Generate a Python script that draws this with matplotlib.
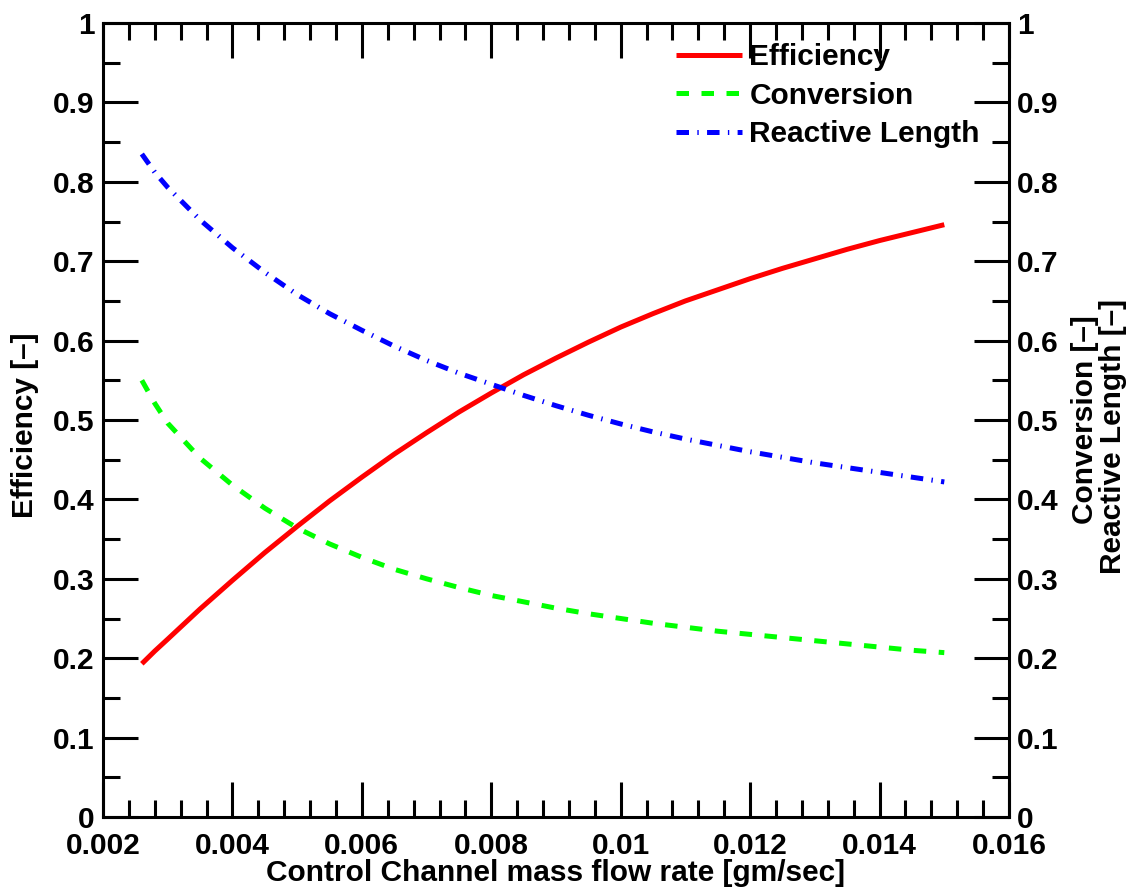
import matplotlib
matplotlib.use("Agg")
import matplotlib.pyplot as plt
from matplotlib.ticker import MultipleLocator, FuncFormatter

# ---- data ----
mass_flow = [0.0026, 0.0028, 0.003, 0.0035, 0.004, 0.0045, 0.005, 0.0055, 0.006,
             0.0065, 0.007, 0.0075, 0.008, 0.0085, 0.009, 0.0095, 0.010, 0.0105,
             0.011, 0.0115, 0.012, 0.0125, 0.013, 0.0135, 0.014, 0.0145, 0.015]
efficiency = [0.193, 0.209, 0.224, 0.262, 0.298, 0.333, 0.366, 0.398, 0.428,
              0.457, 0.484, 0.510, 0.534, 0.557, 0.578, 0.598, 0.617, 0.634,
              0.650, 0.664, 0.678, 0.691, 0.703, 0.715, 0.726, 0.736, 0.746]
conversion = [0.550, 0.521, 0.496, 0.452, 0.418, 0.389, 0.364, 0.344, 0.327,
              0.312, 0.300, 0.289, 0.279, 0.271, 0.263, 0.256, 0.250, 0.244,
              0.239, 0.234, 0.230, 0.226, 0.222, 0.218, 0.214, 0.210, 0.207]
reactive_length = [0.835, 0.812, 0.793, 0.752, 0.717, 0.686, 0.658, 0.634, 0.613,
                   0.593, 0.575, 0.559, 0.545, 0.531, 0.518, 0.506, 0.495, 0.485,
                   0.476, 0.468, 0.460, 0.453, 0.446, 0.440, 0.434, 0.428, 0.422]

series_labels = ["Efficiency", "Conversion", "Reactive Length"]
x_label = "Control Channel mass flow rate [gm/sec]"
y_label_left = "Efficiency [\u2013]"
y_label_right_1 = "Conversion [\u2013]"
y_label_right_2 = "Reactive Length [\u2013]"

plt.rcParams['font.family'] = ['Liberation Sans', 'DejaVu Sans']
plt.rcParams['font.weight'] = 'bold'
plt.rcParams['lines.scale_dashes'] = False

FS = 21.5
W, H = 1139, 894
fig = plt.figure(figsize=(W / 100, H / 100), dpi=100)
L, R, T, B = 103, 1009, 23, 817
ax = fig.add_axes([L / W, (H - B) / H, (R - L) / W, (B - T) / H])

ax.plot(mass_flow, efficiency, color='#ff0000', lw=3.6, solid_capstyle='butt',
        label=series_labels[0])
ax.plot(mass_flow, conversion, color='#00ff00', lw=3.6, linestyle=(0, (9, 9)),
        dash_capstyle='butt', label=series_labels[1])
ax.plot(mass_flow, reactive_length, color='#0000ff', lw=3.6,
        linestyle=(0, (9, 6, 1, 6)), dash_capstyle='butt', label=series_labels[2])

ax.set_xlim(0.002, 0.016)
ax.set_ylim(0, 1)

def yfmt(v, pos):
    if abs(v) < 1e-9:
        return "0"
    if abs(v - 1) < 1e-9:
        return "1"
    return "%.1f" % v

def xfmt(v, pos):
    s = "%.3f" % v
    if s.endswith('0'):
        s = s.rstrip('0')
    return s

ax.xaxis.set_major_locator(MultipleLocator(0.002))
ax.xaxis.set_minor_locator(MultipleLocator(0.0004))
ax.yaxis.set_major_locator(MultipleLocator(0.1))
ax.yaxis.set_minor_locator(MultipleLocator(0.05))
ax.xaxis.set_major_formatter(FuncFormatter(xfmt))
ax.yaxis.set_major_formatter(FuncFormatter(yfmt))

for s in ax.spines.values():
    s.set_linewidth(2.2)

ax.tick_params(which='both', direction='in', top=True, right=True, width=2.2,
               labelsize=FS)
ax.tick_params(which='major', length=25, pad=6)
ax.tick_params(which='minor', length=12.2)
ax.tick_params(axis='x', pad=11)
ax.tick_params(axis='y', labelright=True, labelleft=True)

for lab in ax.get_xticklabels() + ax.get_yticklabels():
    lab.set_fontweight('bold')

ax.set_xlabel(x_label, fontsize=FS, fontweight='bold', labelpad=-1)

fig.text(25 / W, 1 - 425 / H, y_label_left, rotation=90, ha='center', va='center',
         fontsize=FS, fontweight='bold')
fig.text(1085 / W, 1 - 420 / H, y_label_right_1, rotation=90, ha='center',
         va='center', fontsize=FS, fontweight='bold')
fig.text(1113 / W, 1 - 436 / H, y_label_right_2, rotation=90, ha='center',
         va='center', fontsize=FS, fontweight='bold')

leg = ax.legend(loc='upper right', bbox_to_anchor=((980 - L) / (R - L), (B - 43) / (B - T)),
                frameon=False, fontsize=FS, handlelength=2.2, handletextpad=0.26,
                labelspacing=0.36, borderaxespad=0, borderpad=0)
for t in leg.get_texts():
    t.set_fontweight('bold')

fig.savefig("out.png", dpi=100)
